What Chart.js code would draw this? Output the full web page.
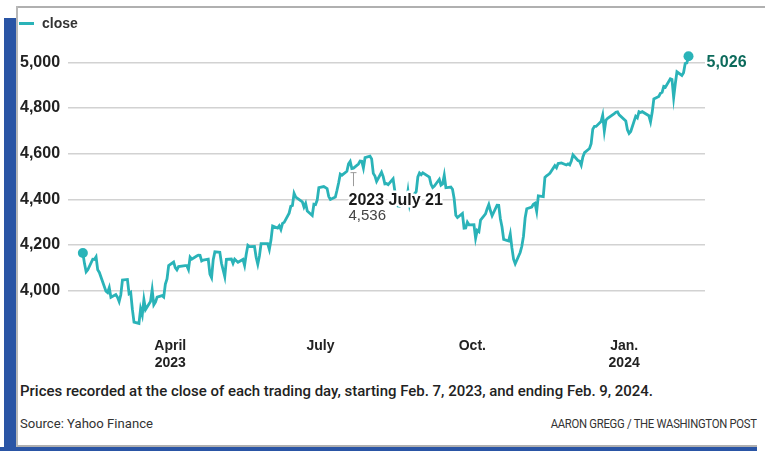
<!DOCTYPE html>
<html>
<head>
<meta charset="utf-8">
<script src="https://cdn.jsdelivr.net/npm/chart.js@4.4.1/dist/chart.umd.min.js"></script>
<style>
  html, body { margin: 0; padding: 0; background: #fff; }
  body { width: 765px; height: 451px; position: relative; overflow: hidden; font-family: "Liberation Sans", Arial, sans-serif; color: #333; }
  #wrap { position: absolute; left: 0; top: 0; width: 765px; height: 370px; }
  .frame-top { position: absolute; left: 17px; top: 6px; width: 748px; height: 2px; background: #b0b0b0; }
  .frame-left { position: absolute; left: 16px; top: 6px; width: 2px; height: 441px; background: #b8b8b8; }
  .frame-bottom { position: absolute; left: 17px; top: 445px; width: 740px; height: 2px; background: #b0b0b0; }
  .bar-left { position: absolute; left: 4px; top: 18px; width: 12px; height: 433px; background: #2a55a5; }
  .bar-bottom { position: absolute; left: 0; top: 447px; width: 757px; height: 4px; background: #2a55a5; }
  .legend { position: absolute; left: 19px; top: 15px; font-weight: bold; font-size: 14px; color: #333; }
  .legend i { display: inline-block; width: 15px; height: 3px; background: #2ab3b8; vertical-align: middle; margin-right: 8px; position: relative; top: -1px; }
  .note { position: absolute; left: 20px; top: 383px; font-size: 14.5px; white-space: nowrap; color: #222;
          font-family: Roboto, "Liberation Sans", sans-serif; font-weight: 500; transform-origin: left center; }
  .source { position: absolute; left: 20px; top: 416px; font-size: 13px; white-space: nowrap; color: #333;
            font-family: Roboto, "Liberation Sans", sans-serif; transform-origin: left center; }
  .credit { position: absolute; right: 8px; top: 417px; font-size: 12px; white-space: nowrap; color: #333; letter-spacing: -0.3px;
            font-family: Roboto, "Liberation Sans", sans-serif; transform-origin: right center; }
</style>
</head>
<body>
<div class="frame-top"></div>
<div class="frame-left"></div>
<div class="frame-bottom"></div>
<div class="bar-left"></div>
<div class="bar-bottom"></div>
<div id="wrap"><canvas id="chart" width="765" height="370"></canvas></div>
<div class="legend"><i></i>close</div>
<div class="note" data-fit="633">Prices recorded at the close of each trading day, starting Feb. 7, 2023, and ending Feb. 9, 2024.</div>
<div class="source" data-fit="133">Source: Yahoo Finance</div>
<div class="credit" data-fit="206">AARON GREGG / THE WASHINGTON POST</div>

<script>
const TEAL = '#2ab3b8'

// trading days, Feb 7, 2023 - Feb 9, 2024
const dates = [
  '2023-02-07','2023-02-08','2023-02-09','2023-02-10','2023-02-13','2023-02-14','2023-02-15','2023-02-16','2023-02-17','2023-02-21','2023-02-22','2023-02-23','2023-02-24','2023-02-27','2023-02-28',
  '2023-03-01','2023-03-02','2023-03-03','2023-03-06','2023-03-07','2023-03-08','2023-03-09','2023-03-10','2023-03-13','2023-03-14','2023-03-15','2023-03-16','2023-03-17','2023-03-20','2023-03-21','2023-03-22','2023-03-23','2023-03-24','2023-03-27','2023-03-28','2023-03-29','2023-03-30','2023-03-31',
  '2023-04-03','2023-04-04','2023-04-05','2023-04-06','2023-04-10','2023-04-11','2023-04-12','2023-04-13','2023-04-14','2023-04-17','2023-04-18','2023-04-19','2023-04-20','2023-04-21','2023-04-24','2023-04-25','2023-04-26','2023-04-27','2023-04-28',
  '2023-05-01','2023-05-02','2023-05-03','2023-05-04','2023-05-05','2023-05-08','2023-05-09','2023-05-10','2023-05-11','2023-05-12','2023-05-15','2023-05-16','2023-05-17','2023-05-18','2023-05-19','2023-05-22','2023-05-23','2023-05-24','2023-05-25','2023-05-26','2023-05-30','2023-05-31',
  '2023-06-01','2023-06-02','2023-06-05','2023-06-06','2023-06-07','2023-06-08','2023-06-09','2023-06-12','2023-06-13','2023-06-14','2023-06-15','2023-06-16','2023-06-20','2023-06-21','2023-06-22','2023-06-23','2023-06-26','2023-06-27','2023-06-28','2023-06-29','2023-06-30',
  '2023-07-03','2023-07-05','2023-07-06','2023-07-07','2023-07-10','2023-07-11','2023-07-12','2023-07-13','2023-07-14','2023-07-17','2023-07-18','2023-07-19','2023-07-20','2023-07-21','2023-07-24','2023-07-25','2023-07-26','2023-07-27','2023-07-28','2023-07-31',
  '2023-08-01','2023-08-02','2023-08-03','2023-08-04','2023-08-07','2023-08-08','2023-08-09','2023-08-10','2023-08-11','2023-08-14','2023-08-15','2023-08-16','2023-08-17','2023-08-18','2023-08-21','2023-08-22','2023-08-23','2023-08-24','2023-08-25','2023-08-28','2023-08-29','2023-08-30','2023-08-31',
  '2023-09-01','2023-09-05','2023-09-06','2023-09-07','2023-09-08','2023-09-11','2023-09-12','2023-09-13','2023-09-14','2023-09-15','2023-09-18','2023-09-19','2023-09-20','2023-09-21','2023-09-22','2023-09-25','2023-09-26','2023-09-27','2023-09-28','2023-09-29',
  '2023-10-02','2023-10-03','2023-10-04','2023-10-05','2023-10-06','2023-10-09','2023-10-10','2023-10-11','2023-10-12','2023-10-13','2023-10-16','2023-10-17','2023-10-18','2023-10-19','2023-10-20','2023-10-23','2023-10-24','2023-10-25','2023-10-26','2023-10-27','2023-10-30','2023-10-31',
  '2023-11-01','2023-11-02','2023-11-03','2023-11-06','2023-11-07','2023-11-08','2023-11-09','2023-11-10','2023-11-13','2023-11-14','2023-11-15','2023-11-16','2023-11-17','2023-11-20','2023-11-21','2023-11-22','2023-11-24','2023-11-27','2023-11-28','2023-11-29','2023-11-30',
  '2023-12-01','2023-12-04','2023-12-05','2023-12-06','2023-12-07','2023-12-08','2023-12-11','2023-12-12','2023-12-13','2023-12-14','2023-12-15','2023-12-18','2023-12-19','2023-12-20','2023-12-21','2023-12-22','2023-12-26','2023-12-27','2023-12-28','2023-12-29',
  '2024-01-02','2024-01-03','2024-01-04','2024-01-05','2024-01-08','2024-01-09','2024-01-10','2024-01-11','2024-01-12','2024-01-16','2024-01-17','2024-01-18','2024-01-19','2024-01-22','2024-01-23','2024-01-24','2024-01-25','2024-01-26','2024-01-29','2024-01-30','2024-01-31',
  '2024-02-01','2024-02-02','2024-02-05','2024-02-06','2024-02-07','2024-02-08','2024-02-09'
]

const closes = [
  4164.00, 4117.86, 4081.50, 4090.46, 4137.29, 4136.13, 4147.60, 4090.41, 4079.09, 3997.34, 3991.05, 4012.32, 3970.04, 3982.24, 3970.15,
  3951.39, 3981.35, 4045.64, 4048.42, 3986.37, 3992.01, 3918.32, 3861.59, 3855.76, 3919.29, 3891.93, 3960.28, 3916.64, 3951.57, 4002.87, 3936.97, 3948.72, 3970.99, 3977.53, 3971.27, 4027.81, 4050.83, 4109.31,
  4124.51, 4100.60, 4090.38, 4105.02, 4109.11, 4108.94, 4091.95, 4146.22, 4137.64, 4151.32, 4154.87, 4154.52, 4129.79, 4133.52, 4137.04, 4071.63, 4055.99, 4135.35, 4169.48,
  4167.87, 4119.58, 4090.75, 4061.22, 4136.25, 4138.12, 4119.17, 4137.64, 4130.62, 4124.08, 4136.28, 4109.90, 4158.77, 4198.05, 4191.98, 4192.63, 4145.58, 4115.24, 4151.28, 4205.45, 4205.52, 4179.83,
  4221.02, 4282.37, 4273.79, 4283.85, 4267.52, 4293.93, 4298.86, 4338.93, 4369.01, 4372.59, 4425.84, 4409.59, 4388.71, 4365.69, 4381.89, 4348.33, 4328.82, 4378.41, 4376.86, 4396.44, 4450.38,
  4455.59, 4446.82, 4411.59, 4398.95, 4409.53, 4439.26, 4472.16, 4510.04, 4505.42, 4522.79, 4554.98, 4565.72, 4534.87, 4536.34, 4554.64, 4567.46, 4566.75, 4537.41, 4582.23, 4588.96,
  4576.73, 4513.39, 4501.89, 4478.03, 4518.44, 4499.38, 4467.71, 4468.83, 4464.05, 4489.72, 4437.86, 4404.33, 4370.36, 4369.71, 4399.77, 4387.55, 4436.01, 4376.31, 4405.71, 4433.31, 4497.63, 4514.87, 4507.66,
  4515.77, 4496.83, 4465.48, 4451.14, 4457.49, 4487.46, 4461.90, 4467.44, 4505.10, 4450.32, 4453.53, 4443.95, 4402.20, 4330.00, 4320.06, 4337.44, 4273.53, 4274.51, 4299.70, 4288.05,
  4288.39, 4229.45, 4263.75, 4258.19, 4308.50, 4335.66, 4358.24, 4376.95, 4349.61, 4327.78, 4373.63, 4373.20, 4314.60, 4278.00, 4224.16, 4217.04, 4247.68, 4186.77, 4137.23, 4117.37, 4166.82, 4193.80,
  4237.86, 4317.78, 4358.34, 4365.98, 4378.38, 4382.78, 4347.35, 4415.24, 4411.55, 4495.70, 4502.88, 4508.24, 4514.02, 4547.38, 4538.19, 4556.62, 4559.34, 4550.43, 4554.89, 4550.58, 4567.80,
  4594.63, 4569.78, 4567.18, 4549.34, 4585.59, 4604.37, 4622.44, 4643.70, 4707.09, 4719.55, 4719.19, 4740.56, 4768.37, 4698.35, 4746.75, 4754.63, 4774.75, 4781.58, 4783.35, 4769.83,
  4742.83, 4704.81, 4688.68, 4697.24, 4763.54, 4756.50, 4783.45, 4780.24, 4783.83, 4765.98, 4739.21, 4780.94, 4839.81, 4850.43, 4864.60, 4868.55, 4894.16, 4890.97, 4927.93, 4924.97, 4845.65,
  4906.19, 4958.61, 4942.81, 4954.23, 4995.06, 4997.91, 5026.61
]

const xTickDates = ['2023-04-01', '2023-07-01', '2023-10-01', '2024-01-01']
const xTickLabels = [['April', '2023'], 'July', 'Oct.', ['Jan.', '2024']]
const yTicks = [4000, 4200, 4400, 4600, 4800, 5000]

const markDate = '2023-07-21'
const markLabel = '2023 July 21'

// days since first trading day
const day0 = Date.parse(dates[0])
const toDay = d => (Date.parse(d) - day0) / 86400000

const points = dates.map((d, i) => ({ x: toDay(d), y: closes[i] }))
const last = points.length - 1
// the source shows whole points, cut off rather than rounded
const fmt = v => Math.trunc(v).toLocaleString('en-US')

const annotations = {
  id: 'annotations',
  afterDatasetsDraw(chart) {
    const { ctx, scales: { x, y } } = chart
    const mi = dates.indexOf(markDate)
    const px = x.getPixelForValue(points[mi].x)
    const py = y.getPixelForValue(points[mi].y)

    ctx.save()
    // little T marker under the point
    ctx.strokeStyle = '#9a9a9a'
    ctx.lineWidth = 1
    ctx.beginPath()
    ctx.moveTo(px - 3, py + 4.5)
    ctx.lineTo(px + 3, py + 4.5)
    ctx.moveTo(px, py + 4.5)
    ctx.lineTo(px, py + 18)
    ctx.stroke()

    // label with white halo
    ctx.textBaseline = 'middle'
    ctx.textAlign = 'left'
    ctx.lineJoin = 'round'
    ctx.strokeStyle = '#fff'
    ctx.lineWidth = 5
    ctx.font = 'bold 16px "Liberation Sans", Arial, sans-serif'
    ctx.strokeText(markLabel, px - 5, py + 32)
    ctx.fillStyle = '#1a1a1a'
    ctx.fillText(markLabel, px - 5, py + 32)
    ctx.font = '15px "Liberation Sans", Arial, sans-serif'
    ctx.strokeText(fmt(closes[mi]), px - 5, py + 48)
    ctx.fillStyle = '#444'
    ctx.fillText(fmt(closes[mi]), px - 5, py + 48)

    // last value
    const lx = x.getPixelForValue(points[last].x)
    const ly = y.getPixelForValue(points[last].y)
    ctx.font = 'bold 16px "Liberation Sans", Arial, sans-serif'
    ctx.fillStyle = '#0d6b5c'
    ctx.fillText(fmt(closes[last]), lx + 18, ly + 6)
    ctx.restore()
  }
}

const tickFont = { family: '"Liberation Sans", Arial, sans-serif', size: 14, weight: 'bold' }

new Chart(document.getElementById('chart'), {
  type: 'line',
  data: {
    datasets: [{
      label: 'close',
      data: points,
      borderColor: TEAL,
      borderWidth: 2.8,
      backgroundColor: TEAL,
      pointRadius: c => (c.dataIndex === 0 || c.dataIndex === last) ? 5 : 0,
      pointBackgroundColor: TEAL,
      pointBorderWidth: 0,
      tension: 0,
      clip: false
    }]
  },
  options: {
    responsive: false,
    animation: false,
    layout: { padding: { left: 20, right: 60, top: 35, bottom: 3 } },
    plugins: {
      legend: { display: false },
      tooltip: { enabled: false }
    },
    scales: {
      x: {
        type: 'linear',
        min: -9,
        max: 377,
        grid: { display: false },
        border: { display: false },
        afterBuildTicks: s => { s.ticks = xTickDates.map(d => ({ value: toDay(d) })) },
        afterFit: s => { s.height = 40 },
        ticks: {
          autoSkip: false,
          maxRotation: 0,
          padding: 3,
          color: '#222',
          font: tickFont,
          callback: (v, i) => xTickLabels[i]
        }
      },
      y: {
        min: 3840,
        max: 5120,
        border: { display: false },
        grid: { color: '#d2d2d2', lineWidth: 1.5, drawTicks: false },
        afterBuildTicks: s => { s.ticks = yTicks.map(v => ({ value: v })) },
        afterFit: s => { s.width = 48 },
        ticks: {
          crossAlign: 'far',
          padding: 8,
          color: '#222',
          font: { family: '"Liberation Sans", Arial, sans-serif', size: 16, weight: 'bold' },
          callback: v => fmt(v)
        }
      }
    }
  },
  plugins: [annotations]
})

// squeeze the footer lines to the width they take in the print version
document.querySelectorAll('[data-fit]').forEach(el => {
  const w = el.getBoundingClientRect().width
  el.style.transform = 'scaleX(' + (Number(el.dataset.fit) / w) + ')'
})
</script>
</body>
</html>
